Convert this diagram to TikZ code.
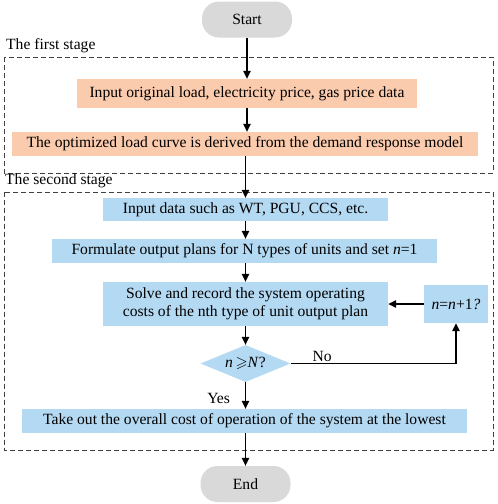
\documentclass[tikz,border=0pt]{standalone}
\usepackage{fontspec}
\usepackage{amssymb}
\setmainfont{Liberation Serif}
\usetikzlibrary{arrows.meta,shapes.geometric}
\definecolor{stageorange}{HTML}{FBCBAE}
\definecolor{stageblue}{HTML}{B4D9F2}
\definecolor{termgray}{HTML}{D9D9D9}
\tikzset{
	term/.style={fill=termgray, rounded corners=17pt, minimum width=90pt, minimum height=36pt, inner sep=0pt},
	orangebox/.style={fill=stageorange, minimum height=24pt, inner sep=0pt, align=center},
	bluebox/.style={fill=stageblue, minimum height=24pt, inner sep=0pt, align=center},
	choice/.style={diamond, fill=stageblue, aspect=2.43, inner sep=0pt, minimum width=90pt, minimum height=37pt},
	stagebox/.style={dashed, dash pattern=on 5pt off 3pt, draw=black!75, line width=0.8pt},
	flow/.style={-{Triangle[length=8pt,width=7.5pt]}, line width=1.1pt},
}

\begin{document}
\begin{tikzpicture}[x=1pt, y=-1pt, every node/.style={font=\fontsize{15.6}{18}\selectfont}]
			%%%%% FRAME %%%%%
			\useasboundingbox (0, 0) rectangle (498, 504);
			
			\draw[stagebox] (4, 57) rectangle (493, 173);
			\draw[stagebox] (4, 192) rectangle (493, 450);
			\node[anchor=south west, inner sep=0pt] (first) at (6, 53) {The first stage};
			\node[anchor=south west, inner sep=0pt] (second) at (5, 188) {The second stage};
			
			%%%%% NODES %%%%%
			\node[term] (start) at (247, 19.5) {Start};
			
			\node[orangebox, minimum width=340pt, minimum height=29pt] (input) at (247, 93.5) {Input original load, electricity price, gas price data};
			\node[orangebox, minimum width=466pt] (curve) at (245, 144) {The optimized load curve is derived from the demand response model};
			
			\node[bluebox, minimum width=285pt, minimum height=23pt] (data) at (245.5, 209.5) {Input data such as WT, PGU, CCS, etc.};
			\node[bluebox, minimum width=385pt] (plans) at (244.5, 251) {Formulate output plans for N types of units and set \textit{n}=1};
			\node[bluebox, minimum width=285pt, minimum height=44pt] (solve) at (245.5, 304) {Solve and record the system operating\\costs of the nth type of unit output plan};
			\node[bluebox, minimum width=64pt, minimum height=38pt] (next) at (456, 304) {\textit{n}=\textit{n}+1\textit{?}};
			\node[choice] (check) at (245.5, 363.5) {\textit{n}\,$\geqslant$\textit{N}?};
			\node[bluebox, minimum width=445pt] (lowest) at (244.5, 421) {Take out the overall cost of operation of the system at the lowest};
			
			\node[term] (end) at (245.5, 484) {End};
			
			%%%%% ARROWS %%%%%
			\draw[flow] (start) -- (input);
			\draw[flow] (input.south) -- (input.south |- curve.north);
			\draw[flow] (curve.south -| data.north) -- (data);
			\draw[flow] (data) -- (plans.north -| data.south);
			\draw[flow] (plans.south -| solve.north) -- (solve);
			\draw[flow] (solve) -- (check);
			\draw[flow] (check) -- node[left, pos=0.6, inner sep=15pt] (yes) {Yes} (lowest.north -| check.south);
			\draw[flow] (lowest.south -| end.north) -- (end);
			\draw[flow] (check.east) -- node[above, pos=0.19, inner sep=1pt] (no) {No} (check.east -| next.south) -- (next.south);
			\draw[flow] (next) -- (solve);
			
			%%%%% END %%%%%
\end{tikzpicture}
\end{document}
